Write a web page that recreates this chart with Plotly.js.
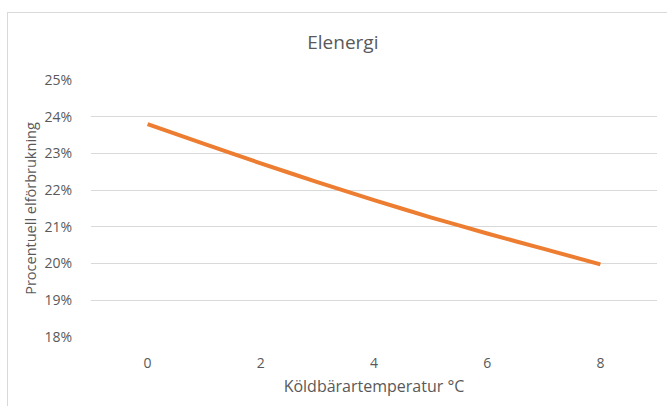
<!DOCTYPE html>
<html><head><meta charset="utf-8">
<script src="https://cdn.plot.ly/plotly-3.0.1.min.js"></script>
<style>html,body{margin:0;padding:0;background:#fff;overflow:hidden}
#frame{position:absolute;left:7px;top:12px;width:700px;height:420px;border-left:1px solid #d9d9d9;border-top:1px solid #d9d9d9;pointer-events:none;z-index:5}
#chart{width:667px;height:406px}</style>
</head><body>
<div id="frame"></div>
<div id="chart"></div>
<script>
const temperatures = [0, 1, 2, 3, 4, 5, 6, 7, 8];
const elShare = [0.238, 0.2326, 0.2273, 0.2222, 0.2173, 0.2126, 0.2082, 0.2040, 0.1998];
const xTicks = [0, 2, 4, 6, 8];
const yTicks = [0.18, 0.19, 0.20, 0.21, 0.22, 0.23, 0.24, 0.25];
const titleText = 'Elenergi';
const xTitle = 'Köldbärartemperatur °C';
const yTitle = 'Procentuell elförbrukning';

const font = 'Open Sans, Noto Sans, sans-serif';
Plotly.newPlot('chart', [{
  x: temperatures, y: elShare, type: 'scatter', mode: 'lines',
  line: {color: '#ED7D31', width: 4, shape: 'spline', smoothing: 0.6},
  hoverinfo: 'skip'
}], {
  width: 667, height: 406,
  margin: {l: 91, r: 10, t: 80, b: 69},
  paper_bgcolor: '#fff', plot_bgcolor: '#fff',
  showlegend: false,
  title: {text: titleText, font: {family: font, size: 19, color: '#595959'}, x: 0.514, xanchor: 'center', y: 0.895, yanchor: 'middle'},
  xaxis: {
    range: [-1, 9], tickvals: xTicks, ticktext: xTicks.map(String),
    showgrid: false, zeroline: false, showline: false,
    ticks: 'outside', ticklen: 13, tickcolor: 'rgba(0,0,0,0)',
    tickfont: {family: font, size: 14, color: '#595959'},
    title: {text: xTitle, font: {family: font, size: 16, color: '#595959'}, standoff: 10}
  },
  yaxis: {
    range: [0.18, 0.25], tickvals: yTicks, tickformat: '.0%',
    showgrid: true, gridcolor: '#d9d9d9', gridwidth: 1, zeroline: false, showline: false,
    ticks: 'outside', ticklen: 15, tickcolor: 'rgba(0,0,0,0)',
    tickfont: {family: font, size: 14, color: '#595959'},
    title: {text: yTitle, font: {family: font, size: 14.5, color: '#595959'}, standoff: 4}
  }
}, {staticPlot: true, displayModeBar: false});
</script>
</body></html>
